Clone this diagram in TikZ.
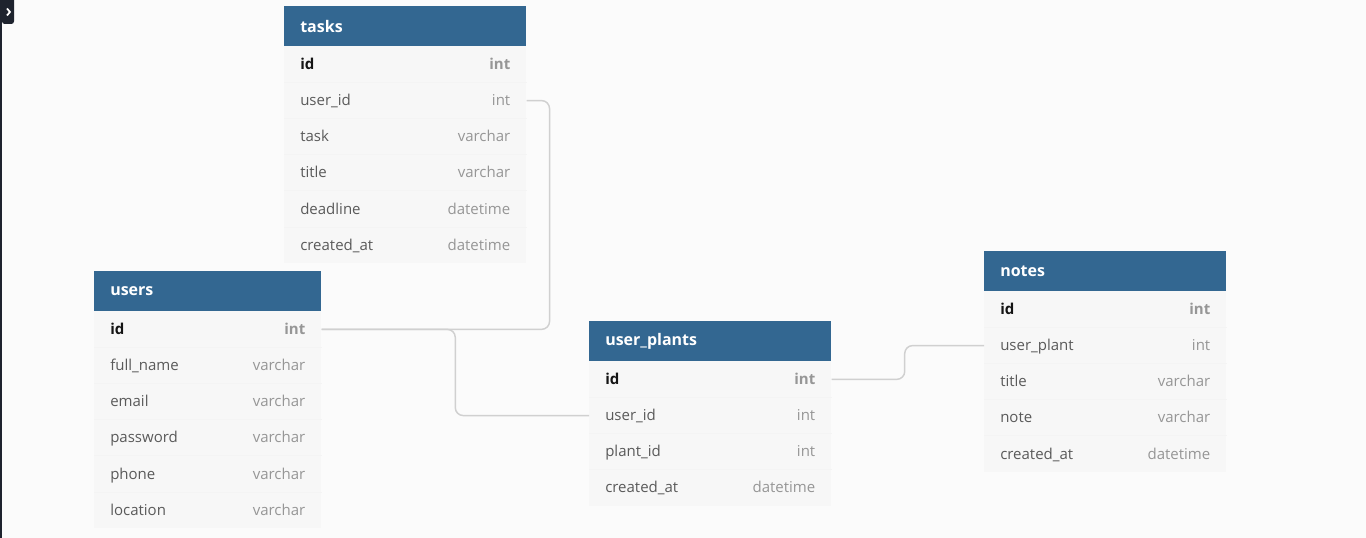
\documentclass[tikz,border=0pt]{standalone}
\usepackage{fontspec}
\setmainfont{Open Sans}
\usetikzlibrary{calc}

\definecolor{canvas}{RGB}{251,251,251}
\definecolor{headblue}{RGB}{51,103,145}
\definecolor{rowgrey}{RGB}{247,247,247}
\definecolor{rowline}{RGB}{244,244,244}
\definecolor{fieldtext}{RGB}{90,90,90}
\definecolor{keytext}{RGB}{20,20,20}
\definecolor{typetext}{RGB}{150,150,150}
\definecolor{reflink}{RGB}{208,208,208}
\definecolor{sidebar}{RGB}{30,35,46}

\tikzset{
  tablehead/.style={rectangle, fill=headblue, anchor=north west, inner sep=0pt, minimum height=30pt},
  headtitle/.style={anchor=west, inner sep=0pt, text=white, font=\bfseries\fontsize{12}{14}\selectfont},
  tablerow/.style={rectangle, fill=rowgrey, anchor=north west, inner sep=0pt, minimum height=27.15pt},
  cell/.style={inner sep=0pt, text height=9.5pt, text depth=2pt, font=\fontsize{11.25}{13}\selectfont},
  field/.style={cell, text=fieldtext},
  keyfield/.style={cell, text=keytext, font=\bfseries\fontsize{11.25}{13}\selectfont},
  ftype/.style={cell, text=typetext},
  keytype/.style={cell, text=typetext, font=\bfseries\fontsize{11.25}{13}\selectfont},
  reference/.style={draw=reflink, line width=1.1pt, rounded corners=6pt}
}

% name, x, y, width, title, fields
\newcommand{\ertable}[6]{%
  \node[tablehead, minimum width=#4] (#1) at (#2,#3) {};
  \node[headtitle] (#1-title) at ([xshift=12pt]#1.west) {#5};
  \foreach \f/\t [count=\i] in {#6} {
    \ifnum\i=1 \def\fstyle{keyfield}\def\tstyle{keytype}\else\def\fstyle{field}\def\tstyle{ftype}\fi
    \node[tablerow, minimum width=#4] (#1-\i) at (#2,{#3+40+(\i-1)*36.2}) {};
    \ifnum\i>1 \draw[rowline, line width=.5pt] (#1-\i.north west) -- (#1-\i.north east);\fi
    \node[style=\fstyle, anchor=west] (#1-\i-f) at ([xshift=12pt]#1-\i.west) {\f};
    \node[style=\tstyle, anchor=east] (#1-\i-t) at ([xshift=-12pt]#1-\i.east) {\t};
  }
}

\begin{document}
\begin{tikzpicture}[x=0.75pt,y=-0.75pt]
  \fill[canvas] (0,0) rectangle (1366,538);
  \useasboundingbox (0,0) rectangle (1366,538);
  \fill[sidebar] (0,0) rectangle (2,538);
  \fill[sidebar, rounded corners=2pt] (2,-6) rectangle (14,24);
  \draw[white, line width=1.3pt] (7,8.5) -- (10,12) -- (7,15.5);

  \ertable{tasks}{284}{6}{181.5pt}{tasks}{id/int, user\_id/int, task/varchar, title/varchar, deadline/datetime, created\_at/datetime}
  \ertable{users}{94}{271}{170.25pt}{users}{id/int, full\_name/varchar, email/varchar, password/varchar, phone/varchar, location/varchar}
  \ertable{userplants}{589}{321}{181.5pt}{user\_plants}{id/int, user\_id/int, plant\_id/int, created\_at/datetime}
  \ertable{notes}{984}{251}{181.5pt}{notes}{id/int, user\_plant/int, title/varchar, note/varchar, created\_at/datetime}

  \draw[reference] (tasks-2.east) -- ++(23,0) |- (users-1.east);
  \draw[reference] (users-1.east) -| ($(users-1.east)!.5!(userplants-2.west)$) |- (userplants-2.west);
  \draw[reference] (userplants-1.east) -| ($(userplants-1.east)!.48!(notes-2.west)$) |- (notes-2.west);
\end{tikzpicture}
\end{document}
